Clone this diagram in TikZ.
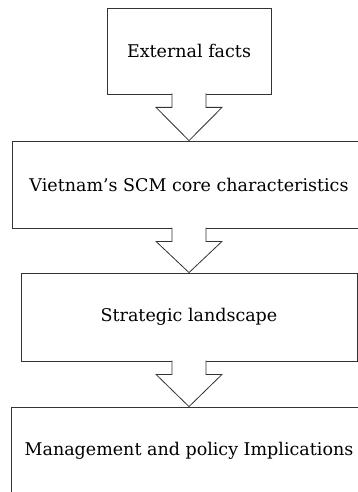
\documentclass[tikz,border=0pt]{standalone}
\usepackage{fontspec}
\setmainfont{DejaVu Serif}
\usepackage{tikz}
\usetikzlibrary{positioning, calc}

\newcommand{\blockdown}[2]{\draw[blockarrow] ($(#1.south)+(-17,-0.9)$) -- ++(0,13.9) -- ++(-16,0) -- (#1.south |- #2.north) -- ($(#1.south)+(33,13)$) -- ++(-16,0) -- ++(0,-13.9);}

\begin{document}
\begin{tikzpicture}[x = 1pt, y = -1pt,
box/.style = {draw = black!80, line width = 0.8pt, fill = white, inner sep = 0pt, font = \fontsize{17.5}{21}\selectfont},
blockarrow/.style = {draw = black!80, line width = 0.8pt, fill = white, line join = miter}]
\useasboundingbox (0, 0) rectangle (358, 492);
\clip (0, 0) rectangle (358, 492);
\node[box, minimum width = 164pt, minimum height = 86pt] at (189, 51) (ext) {External facts};
\node[box, minimum width = 354pt, minimum height = 87pt] at (189, 184.5) (core) {Vietnam's SCM core characteristics};
\node[box, minimum width = 336pt, minimum height = 88pt] at (189, 317) (strat) {Strategic landscape};
\node[box, minimum width = 356pt, minimum height = 87pt] at (189, 450.5) (impl) {Management and policy Implications};
\blockdown{ext}{core}
\blockdown{core}{strat}
\blockdown{strat}{impl}
\end{tikzpicture}
\end{document}
